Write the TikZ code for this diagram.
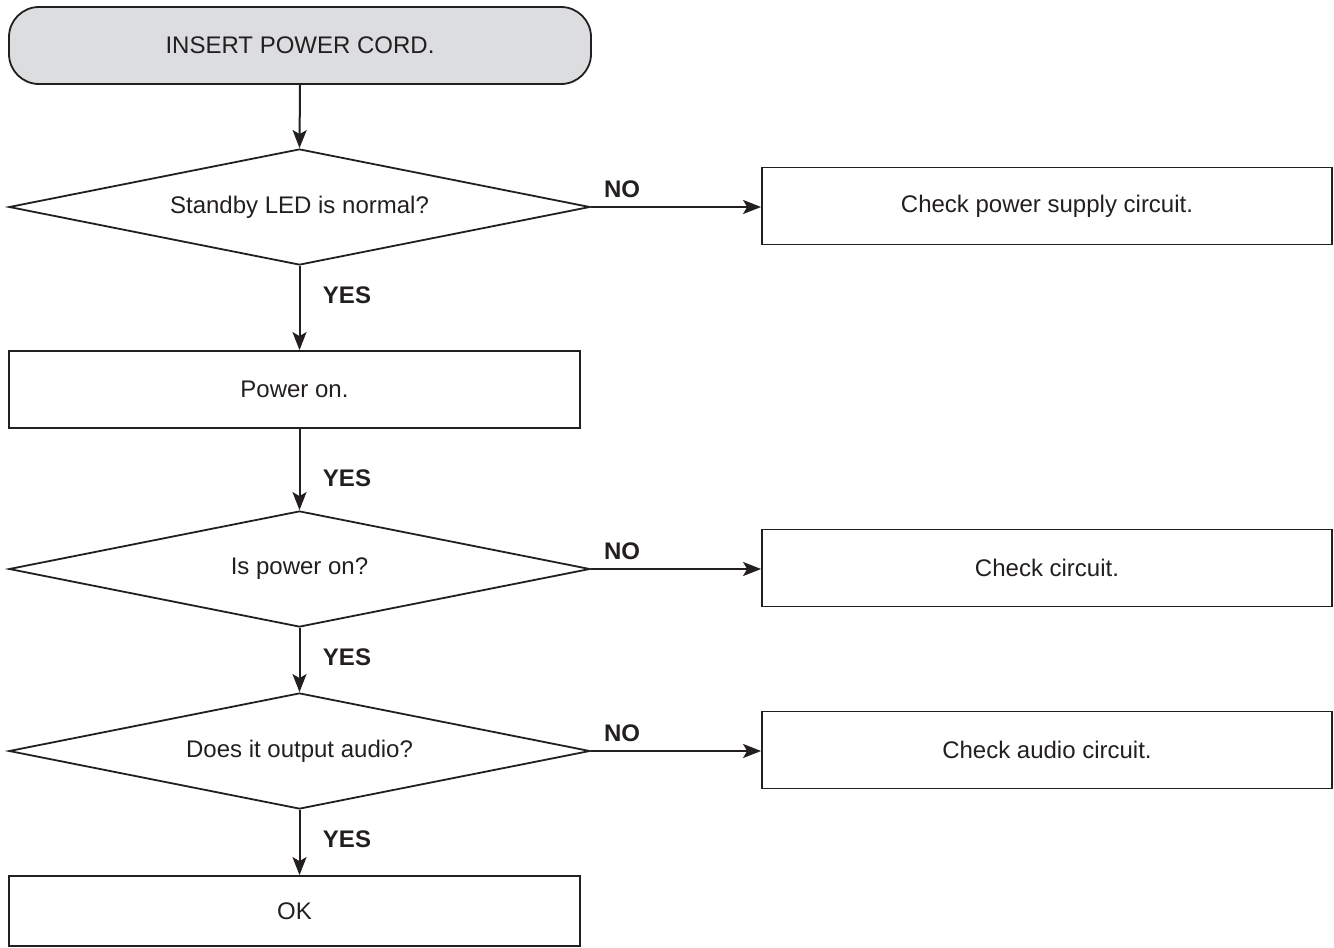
\documentclass[tikz,border=0pt]{standalone}
\usepackage{fontspec}
\setmainfont{Liberation Sans}
\usetikzlibrary{shapes.geometric,arrows.meta}
\definecolor{ink}{RGB}{35,31,32}
\definecolor{startfill}{RGB}{220,221,223}
\begin{document}
\begin{tikzpicture}[x=0.5pt,y=-0.5pt,
  every node/.style={text=ink,font=\fontsize{12}{14}\selectfont},
  base/.style={draw=ink,line width=0.9pt,inner sep=0pt},
  startbox/.style={base,rectangle,rounded corners=15pt,fill=startfill,
    minimum width=291pt,minimum height=38.5pt},
  actbox/.style={base,rectangle,minimum height=38.5pt},
  test/.style={base,diamond,aspect=5,minimum width=290.5pt,minimum height=58pt},
  answer/.style={font=\fontsize{12}{14}\selectfont\bfseries},
  flow/.style={draw=ink,line width=1pt,-{Stealth[length=9pt,width=7pt,inset=2pt]}}
]
\useasboundingbox (0,0) rectangle (1334,948);

% main column
\node[startbox] (start) at (300,45.5) {INSERT POWER CORD.};
\node[test] (d1) at (299.5,207) {Standby LED is normal?};
\node[actbox,minimum width=285.5pt] (power) at (294.5,389.5) {Power on.};
\node[test] (d2) at (299.5,569) {Is power on?};
\node[test] (d3) at (299.5,751) {Does it output audio?};
\node[actbox,minimum width=285.5pt,minimum height=35pt] (ok) at (294.5,911) {OK};

% fault branches
\node[actbox,minimum width=285pt] (f1) at (1047,206) {Check power supply circuit.};
\node[actbox,minimum width=285pt] (f2) at (1047,568) {Check circuit.};
\node[actbox,minimum width=285pt] (f3) at (1047,750) {Check audio circuit.};

% vertical flow
\draw[flow] (start.south) -- (d1.north);
\draw[flow] (d1.south) -- (d1.south |- power.north);
\draw[flow] (d1.south |- power.south) -- (d2.north);
\draw[flow] (d2.south) -- (d3.north);
\draw[flow] (d3.south) -- (d3.south |- ok.north);

% horizontal flow
\draw[flow] (d1.east) -- (d1.east -| f1.west);
\draw[flow] (d2.east) -- (d2.east -| f2.west);
\draw[flow] (d3.east) -- (d3.east -| f3.west);

% answers
\node[answer] (y1) at (347,295) {YES};
\node[answer] (y2) at (347,478) {YES};
\node[answer] (y3) at (347,657) {YES};
\node[answer] (y4) at (347,839) {YES};
\node[answer] (n1) at (622,189) {NO};
\node[answer] (n2) at (622,551) {NO};
\node[answer] (n3) at (622,733) {NO};
\end{tikzpicture}
\end{document}
